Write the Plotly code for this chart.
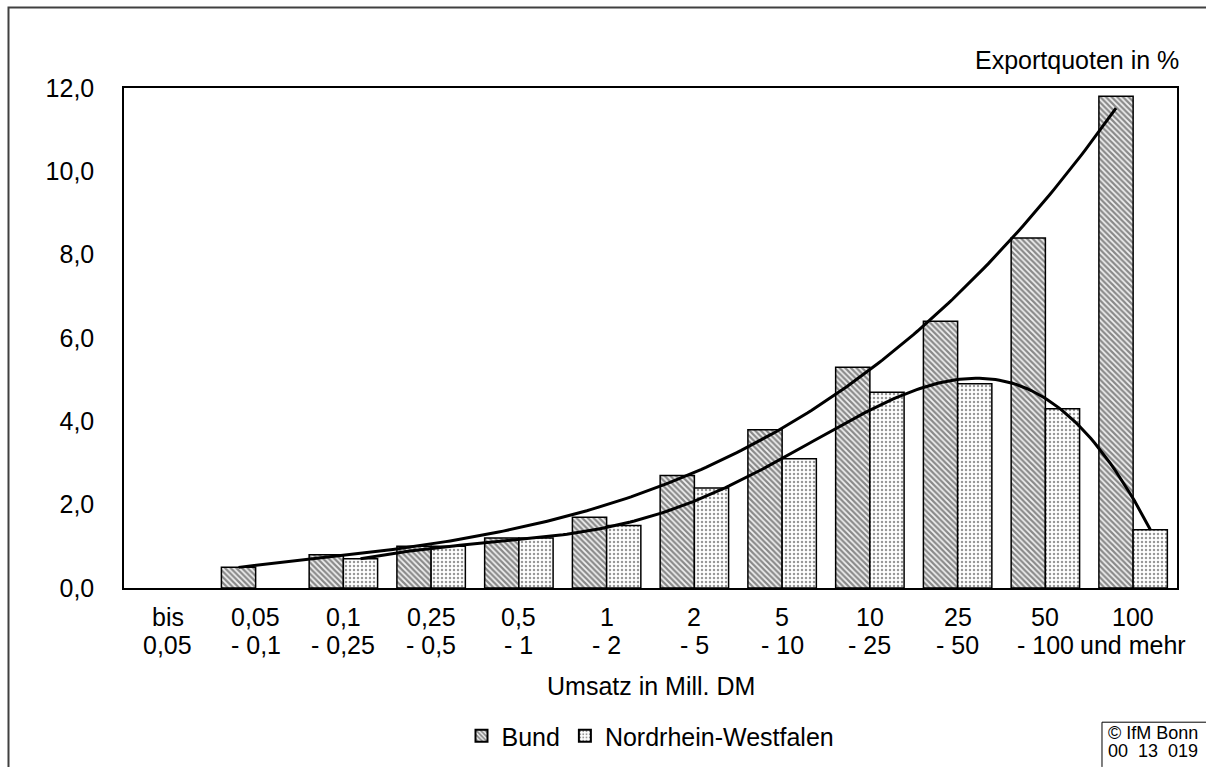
import numpy as np
import plotly.graph_objects as go

# Umsatzgrößenklassen (two-line category labels)
class_top = ["bis", "0,05", "0,1", "0,25", "0,5", "1", "2", "5", "10", "25", "50", "100"]
class_bottom = ["0,05", "- 0,1", "- 0,25", "- 0,5", "- 1", "- 2", "- 5", "- 10", "- 25", "- 50", "- 100", "und mehr"]

# Exportquoten in %
bund = [None, 0.5, 0.8, 1.0, 1.2, 1.7, 2.7, 3.8, 5.3, 6.4, 8.4, 11.8]
nrw = [None, None, 0.7, 1.0, 1.2, 1.5, 2.4, 3.1, 4.7, 4.9, 4.3, 1.4]

y_ticks = [0, 2, 4, 6, 8, 10, 12]

FONT = "Liberation Sans, Arial, sans-serif"
FS = 25
W, H = 1206, 771
L, R, T, B = 124, 29, 88, 180
PW, PH = W - L - R, H - T - B

BAR_W = 0.39
idx = np.arange(len(class_top))


def px_x(px):
    return (px - L) / PW


def px_y(py):
    return (H - B - py) / PH


fig = go.Figure()

fig.add_trace(go.Bar(
    x=idx, y=bund, name="Bund", width=BAR_W, offset=-BAR_W,
    marker=dict(color="white", line=dict(color="black", width=1.5),
                pattern=dict(shape="\\", size=4, solidity=0.55,
                             fgcolor="#202020", bgcolor="#f2f2f2")),
))
fig.add_trace(go.Bar(
    x=idx, y=nrw, name="Nordrhein-Westfalen", width=BAR_W, offset=0,
    marker=dict(color="white", line=dict(color="black", width=1.5),
                pattern=dict(shape=".", size=4, solidity=0.3,
                             fgcolor="#303030", bgcolor="white")),
))

# Polynomial trend lines, drawn through the bar centres of each series
bx = np.array([i for i, v in enumerate(bund) if v is not None], float)
by = np.array([v for v in bund if v is not None], float)
b_coef = np.polyfit(bx, by, 3)
bxs = np.linspace(bx.min(), bx.max(), 200)
fig.add_trace(go.Scatter(
    x=bxs - BAR_W / 2, y=np.polyval(b_coef, bxs), mode="lines",
    line=dict(color="black", width=3), showlegend=False, hoverinfo="skip",
))

nx = np.array([i for i, v in enumerate(nrw) if v is not None], float)
ny = np.array([v for v in nrw if v is not None], float)
n_coef = np.polyfit(nx, ny, 6)
nxs = np.linspace(nx.min(), nx.max(), 200)
fig.add_trace(go.Scatter(
    x=nxs + BAR_W / 2, y=np.polyval(n_coef, nxs), mode="lines",
    line=dict(color="black", width=3), showlegend=False, hoverinfo="skip",
))

annotations = []
for i, (top, bot) in enumerate(zip(class_top, class_bottom)):
    annotations.append(dict(x=i, y=px_y(620), xref="x", yref="paper", text=top,
                            showarrow=False, yanchor="middle", font=dict(size=FS)))
    annotations.append(dict(x=i, y=px_y(648), xref="x", yref="paper", text=bot,
                            showarrow=False, yanchor="middle", font=dict(size=FS)))

annotations += [
    dict(x=px_x(1181), y=px_y(60), xref="paper", yref="paper", text="Exportquoten in %",
         showarrow=False, xanchor="right", yanchor="middle", font=dict(size=FS)),
    dict(x=0.5, y=px_y(690), xref="paper", yref="paper", text="Umsatz in Mill. DM",
         showarrow=False, xanchor="center", yanchor="middle", font=dict(size=FS)),
    dict(x=px_x(1106), y=px_y(737), xref="paper", yref="paper", text="© IfM Bonn",
         showarrow=False, xanchor="left", yanchor="middle", font=dict(size=18)),
    dict(x=px_x(1106), y=px_y(755), xref="paper", yref="paper", text="00  13  019",
         showarrow=False, xanchor="left", yanchor="middle", font=dict(size=18)),
]


def open_corner(x_left, y_top):
    """Path along the left and top edge of a box running off the page."""
    return (f"M {px_x(x_left):.5f},{px_y(H):.5f} "
            f"L {px_x(x_left):.5f},{px_y(y_top):.5f} "
            f"L {px_x(W):.5f},{px_y(y_top):.5f}")


shapes = [
    # outer frame
    dict(type="path", xref="paper", yref="paper", path=open_corner(8.5, 7),
         line=dict(color="#404040", width=2)),
    # copyright box
    dict(type="path", xref="paper", yref="paper", path=open_corner(1102, 726),
         line=dict(color="black", width=1)),
]

fig.update_layout(
    width=W, height=H,
    margin=dict(l=L, r=R, t=T, b=B),
    paper_bgcolor="white", plot_bgcolor="white",
    font=dict(family=FONT, size=FS, color="black"),
    separators=",.",
    barmode="overlay",
    showlegend=True,
    legend=dict(orientation="h", x=0.5, xanchor="center", y=px_y(740), yanchor="middle",
                font=dict(size=FS), itemsizing="constant", traceorder="normal"),
    xaxis=dict(range=[-0.5, len(class_top) - 0.5], showticklabels=False, showgrid=False,
               zeroline=False, showline=True, mirror=True, linecolor="black", linewidth=1.5,
               ticks="", fixedrange=True),
    yaxis=dict(range=[0, 12], tickvals=y_ticks, tickformat=".1f", showgrid=False,
               zeroline=False, showline=True, mirror=True, linecolor="black", linewidth=1.5,
               ticks="", ticklabelstandoff=23, fixedrange=True),
    annotations=annotations,
    shapes=shapes,
)

fig.write_html("out.html")
